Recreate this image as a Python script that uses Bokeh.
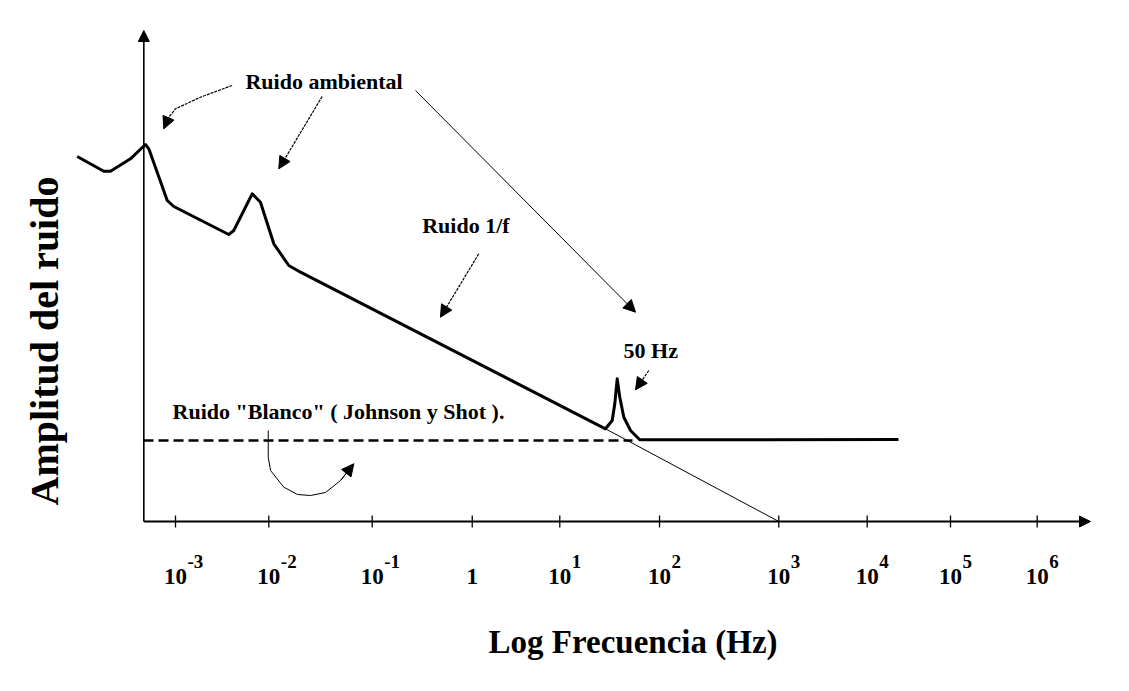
from math import pi
from bokeh.plotting import figure
from bokeh.models import Range1d, Arrow, NormalHead
from bokeh.core.properties import value
from bokeh.embed import file_html
from bokeh.resources import INLINE

# ---------------- data (schematic: x = log10 f in decades as drawn, y = amplitude, arbitrary units)
tick_pos = [-3.0, -2.028, -0.951, 0.091, 1.003, 2.042, 3.284, 4.205, 5.073, 5.976]
tick_base = ["10", "10", "10", "1", "10", "10", "10", "10", "10", "10"]
tick_exp = ["-3", "-2", "-1", "", "1", "2", "3", "4", "5", "6"]

# total noise spectrum (thick curve)
noise_x = [-4.024, -3.747, -3.677, -3.469, -3.313, -3.278, -3.086, -3.018, -2.445, -2.393,
           -2.201, -2.115, -1.976, -1.820, -1.698,
           1.479, 1.549, 1.576, 1.601, 1.628, 1.670, 1.740, 1.836, 4.531]
noise_y = [3.65, 3.503, 3.503, 3.627, 3.77, 3.727, 3.21, 3.15, 2.87, 2.91,
           3.277, 3.193, 2.777, 2.56, 2.493,
           0.927, 1.01, 1.177, 1.427, 1.243, 1.043, 0.91, 0.817, 0.82]

# 1/f extrapolation down to the axis
flicker_x = [1.479, 3.284]
flicker_y = [0.927, 0.0]

# white noise level (dashed)
white_x = [-3.333, 1.76]
white_y = [0.81, 0.81]

# annotation arrows (paths, the last point is the arrow tip)
arrow_amb1_x = [-2.410, -2.740, -3.0, -3.070, -3.122]
arrow_amb1_y = [4.36, 4.243, 4.127, 4.043, 3.927]
arrow_amb2_x = [-1.472, -1.924]
arrow_amb2_y = [4.25, 3.527]
arrow_amb3_x = [-0.5, 1.792]
arrow_amb3_y = [4.31, 2.093]
arrow_1f_x = [0.159, -0.240]
arrow_1f_y = [2.677, 2.043]
arrow_50_x = [1.930, 1.792]
arrow_50_y = [1.51, 1.317]
arrow_white_x = [-2.034, -2.034, -2.010, -1.872, -1.729, -1.594, -1.4375, -1.281, -1.143]
arrow_white_y = [0.91, 0.643, 0.51, 0.343, 0.27, 0.26, 0.29, 0.41, 0.577]

# texts
label_text = ["Ruido ambiental", "Ruido  1/f", "50 Hz", "Ruido \"Blanco\" ( Johnson y Shot )."]
label_x = [-2.271, -0.430, 1.667, -3.031]
label_y = [4.40, 2.96, 1.715, 1.10]

x_title = "Log Frecuencia (Hz)"
y_title = "Amplitud del ruido"

# axes extent
axis_x0 = -3.330
axis_x1 = 6.531
axis_y1 = 4.91

FONT = value("Liberation Serif")

p = figure(width=1113, height=675,
           x_range=Range1d(-4.8229, 6.7708), y_range=Range1d(-1.54, 5.21),
           output_backend="svg", toolbar_location=None,
           x_axis_location=None, y_axis_location=None, min_border=0)
p.grid.visible = False
p.outline_line_color = None
p.background_fill_color = "white"
p.border_fill_color = "white"

# axes with arrows
p.add_layout(Arrow(end=NormalHead(size=11, fill_color="black", line_color="black"),
                   x_start=axis_x0, y_start=0, x_end=axis_x1, y_end=0,
                   line_width=2, line_color="black"))
p.add_layout(Arrow(end=NormalHead(size=11, fill_color="black", line_color="black"),
                   x_start=axis_x0, y_start=0, x_end=axis_x0, y_end=axis_y1,
                   line_width=1.6, line_color="black"))
p.segment(x0=tick_pos, y0=[0.06] * len(tick_pos), x1=tick_pos, y1=[-0.06] * len(tick_pos),
          line_color="black", line_width=1.3)

# tick labels (10 with superscript exponent)
p.text(x=tick_pos, y=[-0.55] * len(tick_pos), text=tick_base, text_font=FONT,
       text_font_style="bold", text_font_size="23px", text_align="center",
       text_baseline="alphabetic", text_color="black")
p.text(x=[t + 0.125 for t in tick_pos], y=[-0.395] * len(tick_pos), text=tick_exp, text_font=FONT,
       text_font_style="bold", text_font_size="19px", text_align="left",
       text_baseline="alphabetic", text_color="black")

# curves
p.line(white_x, white_y, line_color="black", line_width=2.5, line_dash="10 5")
p.line(flicker_x, flicker_y, line_color="black", line_width=1)
p.line(noise_x, noise_y, line_color="black", line_width=3, line_join="round")


def arrow(xs, ys, dash="solid", width=1.0):
    if len(xs) > 2:
        p.line(xs, ys, line_color="black", line_width=width, line_dash=dash)
    p.add_layout(Arrow(end=NormalHead(size=12, fill_color="black", line_color="black"),
                       x_start=xs[-2], y_start=ys[-2], x_end=xs[-1], y_end=ys[-1],
                       line_width=width, line_color="black", line_dash=dash))


arrow(arrow_amb1_x, arrow_amb1_y, dash="3 1", width=1.2)
arrow(arrow_amb2_x, arrow_amb2_y, dash="3 1", width=1.2)
arrow(arrow_amb3_x, arrow_amb3_y, width=1.0)
arrow(arrow_1f_x, arrow_1f_y, dash="3 1", width=1.2)
arrow(arrow_50_x, arrow_50_y, dash="3 1", width=1.2)
arrow(arrow_white_x, arrow_white_y, width=1.0)

# annotations
p.text(x=label_x, y=label_y, text=label_text, text_font=FONT, text_font_style="bold",
       text_font_size="22px", text_align="left", text_baseline="middle", text_color="black")

# axis titles
p.text(x=[1.766], y=[-1.20], text=[x_title], text_font=FONT, text_font_style="bold",
       text_font_size="33px", text_align="center", text_baseline="middle", text_color="black")
p.text(x=[-4.365], y=[1.805], text=[y_title], text_font=FONT, text_font_style="bold",
       text_font_size="40px", text_align="center", text_baseline="middle", angle=pi / 2,
       text_color="black")

open("out.html", "w").write(file_html(p, INLINE))
